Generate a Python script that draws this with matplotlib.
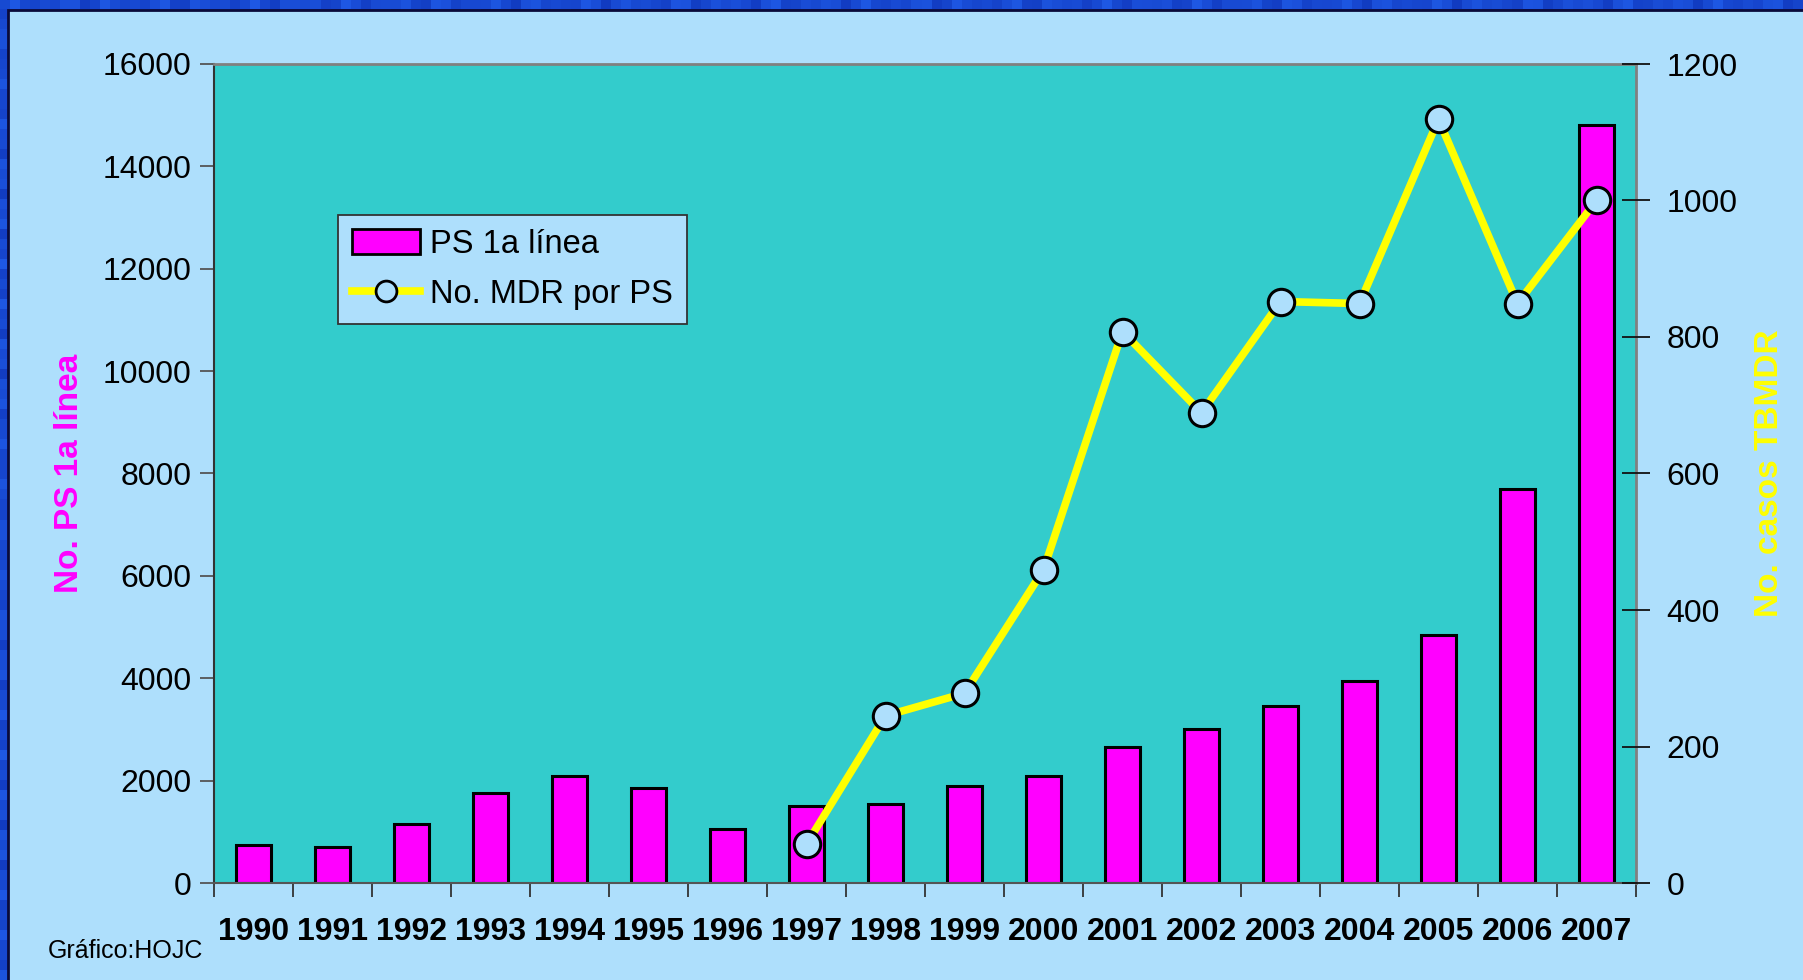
import matplotlib
matplotlib.use("Agg")
import matplotlib.pyplot as plt
from matplotlib.patches import Rectangle
from matplotlib.lines import Line2D
import numpy as np

plt.rcParams['font.family'] = ['Liberation Sans', 'DejaVu Sans']

# Data
years = ['1990', '1991', '1992', '1993', '1994', '1995', '1996', '1997', '1998',
         '1999', '2000', '2001', '2002', '2003', '2004', '2005', '2006', '2007']
ps_primera_linea = [750, 700, 1150, 1750, 2100, 1850, 1050, 1500, 1550,
                    1900, 2100, 2650, 3000, 3450, 3950, 4850, 7700, 14800]
mdr_years = ['1997', '1998', '1999', '2000', '2001', '2002', '2003', '2004', '2005', '2006', '2007']
mdr_por_ps = [57, 245, 278, 459, 808, 689, 852, 849, 1119, 849, 1000]

left_ticks = [0, 2000, 4000, 6000, 8000, 10000, 12000, 14000, 16000]
right_ticks = [0, 200, 400, 600, 800, 1000, 1200]

W, H = 1803, 980
fig = plt.figure(figsize=(W / 100, H / 100), dpi=100)
fig.patch.set_facecolor('#1540C8')

# mottled blue slide background
bg_ax = fig.add_axes([0, 0, 1, 1])
bg_ax.set_axis_off()
gy, gx = np.mgrid[0:98, 0:180]
shade = 0.5 + 0.25 * np.sin(gx * 1.7 + gy * 0.9) * np.cos(gx * 0.37 - gy * 2.3) \
        + 0.25 * np.sin(gx * 0.53 * gy * 0.11 + 1.3)
hi = np.array([0.12, 0.35, 0.90])
lo = np.array([0.02, 0.12, 0.62])
tex = lo + (hi - lo) * shade[..., None]
bg_ax.imshow(np.clip(tex, 0, 1), extent=[0, 1, 0, 1], aspect='auto',
             interpolation='nearest', zorder=0)
bg_ax.set_xlim(0, 1)
bg_ax.set_ylim(0, 1)

# light-blue slide panel
bg_ax.add_patch(Rectangle((8 / W, -0.05), 1.1, 1.05 - 10 / H,
                          facecolor='#AEDFFC', edgecolor='#0A0A3A', linewidth=2, zorder=1))

L, R, T, B = 214, 1636, 64, 883
ax = fig.add_axes([L / W, 1 - B / H, (R - L) / W, (B - T) / H])
ax.set_facecolor('#33CCCC')

x = np.arange(len(years))
ax.bar(x, ps_primera_linea, width=0.44, color='#FF00FF', edgecolor='black',
       linewidth=2.2, zorder=2)
ax.set_xlim(-0.5, len(years) - 0.5)
ax.set_ylim(0, 16000)
ax.set_yticks(left_ticks)
ax.set_yticklabels([str(v) for v in left_ticks], fontsize=23)
ax.tick_params(axis='y', direction='out', length=10, width=1.3, color='#555555', pad=6)

ax.set_xticks(np.arange(len(years) + 1) - 0.5, minor=False)
ax.set_xticklabels([])
ax.tick_params(axis='x', direction='out', length=10, width=1.3, color='#333333')
for i, yr in enumerate(years):
    ax.text(i, -0.042, yr, transform=ax.get_xaxis_transform(), ha='center', va='top',
            fontsize=23, fontweight='bold')

for side in ['top', 'right']:
    ax.spines[side].set_color('#808080')
    ax.spines[side].set_linewidth(2)
ax.spines['left'].set_color('#333333')
ax.spines['left'].set_linewidth(1.5)
ax.spines['bottom'].set_color('#555555')
ax.spines['bottom'].set_linewidth(1.5)

ax.set_ylabel('No. PS 1a línea', fontsize=24, fontweight='bold', color='#FF00FF',
              labelpad=13)

ax2 = ax.twinx()
xm = [years.index(y) for y in mdr_years]
ax2.plot(xm, mdr_por_ps, color='#FFFF00', linewidth=5.5, zorder=3,
         marker='o', markersize=19, markerfacecolor='#AEDFFC',
         markeredgecolor='black', markeredgewidth=2.2, solid_capstyle='round')
ax2.set_ylim(0, 1200)
ax2.set_yticks(right_ticks)
ax2.set_yticklabels([str(v) for v in right_ticks], fontsize=23)
ax2.tick_params(axis='y', direction='inout', length=20, width=1.3, color='#111111', pad=12)
for s in ax2.spines.values():
    s.set_visible(False)
ax2.set_ylabel('No. casos TBMDR', fontsize=24, fontweight='bold', color='#FFFF00',
               labelpad=12)

# legend
handles = [Rectangle((0, 0), 1, 1, facecolor='#FF00FF', edgecolor='black', linewidth=2),
           Line2D([0], [0], color='#FFFF00', linewidth=5.5, marker='o', markersize=15,
                  markerfacecolor='#AEDFFC', markeredgecolor='black', markeredgewidth=2)]
leg = ax2.legend(handles, ['PS 1a línea', 'No. MDR por PS'], loc='upper left',
                 bbox_to_anchor=((338 - L) / (R - L), (B - 215) / (B - T)),
                 fontsize=23.5, frameon=True, fancybox=False, framealpha=1,
                 facecolor='#AEDFFC', edgecolor='#333333', handlelength=2.1,
                 handleheight=0.8, borderpad=0.42, labelspacing=0.6, handletextpad=0.3,
                 borderaxespad=0)
leg.get_frame().set_linewidth(1.3)

fig.text(48 / W, 1 - 951 / H, 'Gráfico:HOJC', fontsize=18, ha='left', va='center')

fig.savefig('out.png', dpi=100)
